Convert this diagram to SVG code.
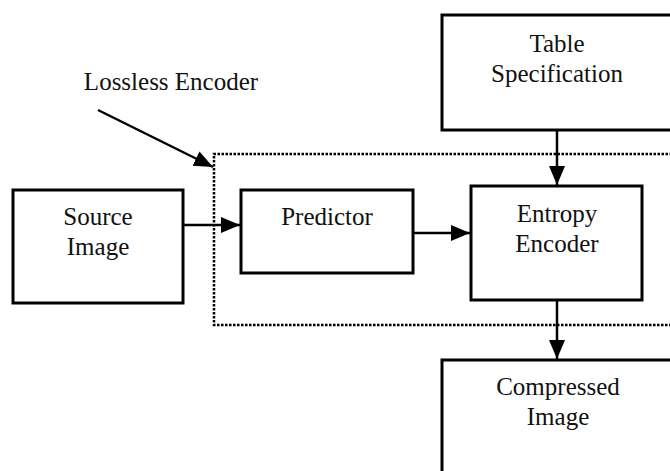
<svg xmlns="http://www.w3.org/2000/svg" width="670" height="471" viewBox="0 0 670 471">
<style>
.box{fill:#fff;stroke:#000;stroke-width:3}
.t{font-size:25px;fill:#111;text-anchor:middle}
.c{stroke:#000;stroke-width:2.5;fill:none}
</style>
<defs>
<marker id="ah" markerUnits="userSpaceOnUse" markerWidth="20" markerHeight="18" refX="19" refY="9" orient="auto">
<path d="M0,1 L19,9 L0,17 Z" fill="#000"/>
</marker>
</defs>
<rect width="670" height="471" fill="#fff"/>
<g id="lossless-encoder-boundary">
<path d="M680,154 H214 V325 H680" fill="none" stroke="#000" stroke-width="2.5" stroke-dasharray="2.5,1.5"/>
</g>
<g font-family="'Liberation Serif', 'Times New Roman', 'DejaVu Serif', serif">
<g id="label-lossless">
<text class="t" x="171" y="90">Lossless Encoder</text>
</g>
<g id="source-image">
<rect class="box" x="13" y="190" width="170" height="113"/>
<text class="t" x="98" y="225">Source</text>
<text class="t" x="98" y="255">Image</text>
</g>
<g id="predictor">
<rect class="box" x="241" y="190" width="172" height="83"/>
<text class="t" x="327" y="225">Predictor</text>
</g>
<g id="entropy-encoder">
<rect class="box" x="471" y="186" width="171" height="114"/>
<text class="t" x="557" y="222">Entropy</text>
<text class="t" x="557" y="252">Encoder</text>
</g>
<g id="table-specification">
<rect class="box" x="442" y="15" width="240" height="115"/>
<text class="t" x="557" y="52">Table</text>
<text class="t" x="557" y="82">Specification</text>
</g>
<g id="compressed-image">
<rect class="box" x="442" y="360" width="240" height="130"/>
<text class="t" x="558" y="395">Compressed</text>
<text class="t" x="558" y="425">Image</text>
</g>
</g>
<g id="connectors">
<line class="c" x1="98" y1="110" x2="213" y2="167" marker-end="url(#ah)"/>
<line class="c" x1="183" y1="225" x2="240" y2="225" marker-end="url(#ah)"/>
<line class="c" x1="413" y1="233" x2="470" y2="233" marker-end="url(#ah)"/>
<line class="c" x1="557" y1="131" x2="557" y2="185" marker-end="url(#ah)"/>
<line class="c" x1="557" y1="301" x2="557" y2="359" marker-end="url(#ah)"/>
</g>
</svg>
